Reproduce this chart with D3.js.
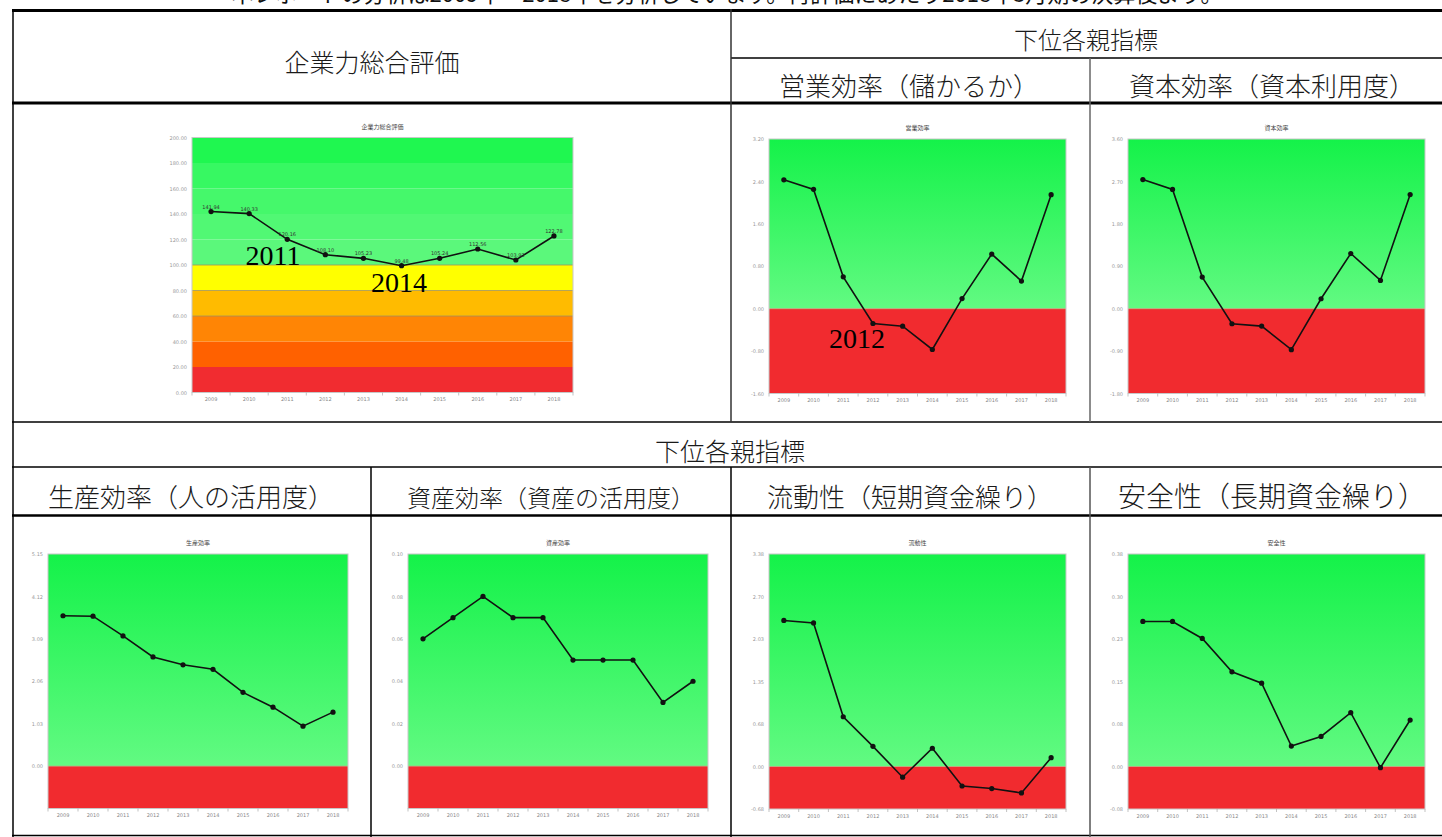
<!DOCTYPE html>
<html>
<head>
<meta charset="utf-8">
<script src="https://cdn.jsdelivr.net/npm/d3@7"></script>
<style>
body { margin: 0; background: #fff; overflow: hidden; }
</style>
</head>
<body>
<div id="chart"></div>
<script>
// ---- data ----
var years = ["2009", "2010", "2011", "2012", "2013", "2014", "2015", "2016", "2017", "2018"];

var totalScores = [141.94, 140.33, 120.16, 108.10, 105.23, 99.48, 105.24, 112.56, 103.92, 122.78];
var totalTicks = [0, 20, 40, 60, 80, 100, 120, 140, 160, 180, 200];
var totalTickLabels = ["0.00", "20.00", "40.00", "60.00", "80.00", "100.00", "120.00", "140.00", "160.00", "180.00", "200.00"];

var opEffValues = [2.43, 2.25, 0.60, -0.28, -0.33, -0.77, 0.19, 1.03, 0.52, 2.15];
var opEffTicks = [-1.6, -0.8, 0, 0.8, 1.6, 2.4, 3.2];
var opEffTickLabels = ["-1.60", "-0.80", "0.00", "0.80", "1.60", "2.40", "3.20"];

var capEffValues = [2.74, 2.53, 0.67, -0.32, -0.37, -0.87, 0.21, 1.17, 0.60, 2.42];
var capEffTicks = [-1.8, -0.9, 0, 0.9, 1.8, 2.7, 3.6];
var capEffTickLabels = ["-1.80", "-0.90", "0.00", "0.90", "1.80", "2.70", "3.60"];

var prodEffValues = [3.65, 3.64, 3.16, 2.65, 2.46, 2.35, 1.79, 1.43, 0.97, 1.31];
var prodEffTicks = [-1.03, 0, 1.03, 2.06, 3.09, 4.12, 5.15];
var prodEffTickLabels = ["", "0.00", "1.03", "2.06", "3.09", "4.12", "5.15"];

var assetEffValues = [0.06, 0.07, 0.08, 0.07, 0.07, 0.05, 0.05, 0.05, 0.03, 0.04];
var assetEffTicks = [-0.02, 0, 0.02, 0.04, 0.06, 0.08, 0.10];
var assetEffTickLabels = ["", "0.00", "0.02", "0.04", "0.06", "0.08", "0.10"];

var liquidityValues = [2.32, 2.28, 0.79, 0.32, -0.17, 0.29, -0.31, -0.35, -0.42, 0.14];
var liquidityTicks = [-0.675, 0, 0.675, 1.35, 2.025, 2.70, 3.375];
var liquidityTickLabels = ["-0.68", "0.00", "0.68", "1.35", "2.03", "2.70", "3.38"];

var safetyValues = [0.256, 0.256, 0.226, 0.167, 0.147, 0.036, 0.053, 0.095, -0.002, 0.082];
var safetyTicks = [-0.075, 0, 0.075, 0.15, 0.225, 0.30, 0.375];
var safetyTickLabels = ["-0.08", "0.00", "0.08", "0.15", "0.23", "0.30", "0.38"];

var totalBandEdges = [0, 20, 40, 60, 80, 100, 120, 140, 160, 180, 200];
var totalBandColors = ["#f12c30", "#ff6100", "#ff8505", "#ffbb00", "#ffff00",
                       "#5bf87b", "#51f874", "#45f86b", "#37f862", "#1ff750"];

// ---- svg ----
var svgW = 1442, svgH = 837;
var svg = d3.select("#chart").append("svg")
    .attr("width", svgW)
    .attr("height", svgH);

var defs = svg.append("defs");
var grad = defs.append("linearGradient")
    .attr("id", "greenGrad")
    .attr("x1", 0).attr("y1", 0).attr("x2", 0).attr("y2", 1);
grad.append("stop").attr("offset", "0%").attr("stop-color", "#14f249");
grad.append("stop").attr("offset", "100%").attr("stop-color", "#62fa82");

var jpFont = "'Noto Sans CJK JP', 'Noto Sans', sans-serif";
var smallFont = "'DejaVu Sans', sans-serif";

// caption above the table, cut off by the top edge as in the source
svg.append("text")
    .attr("x", 727).attr("y", 2)
    .attr("text-anchor", "middle")
    .attr("font-family", jpFont)
    .attr("font-size", 22)
    .attr("fill", "#111")
    .text("本レポートの分析は2009年～2018年を分析しています。再評価にあたり2018年3月期の決算後より。");

// ---- table frame ----
function hLine(x1, x2, y, w) {
    svg.append("line").attr("x1", x1).attr("x2", x2).attr("y1", y).attr("y2", y)
        .attr("stroke", "#000").attr("stroke-width", w);
}
function vLine(x, y1, y2, w, c) {
    svg.append("line").attr("x1", x).attr("x2", x).attr("y1", y1).attr("y2", y2)
        .attr("stroke", c || "#000").attr("stroke-width", w);
}
hLine(12, svgW, 10.5, 3);
hLine(731, svgW, 58, 1.5);
hLine(12, svgW, 103, 3);
hLine(12, svgW, 422, 1.5);
hLine(12, svgW, 467, 1.5);
hLine(12, svgW, 515.5, 2.5);
hLine(12, svgW, 835.5, 1.5);
vLine(13, 9, 837, 1.5);
vLine(731, 9, 422, 1.5, "#333");
vLine(1090, 58, 422, 1.5, "#666");
vLine(371, 467, 837, 1.5);
vLine(731, 467, 837, 1.5);
vLine(1090, 467, 837, 1.5, "#555");

function header(txt, x, y, size) {
    svg.append("text")
        .attr("x", x).attr("y", y)
        .attr("text-anchor", "middle")
        .attr("font-family", jpFont)
        .attr("font-size", size)
        .attr("font-weight", 300)
        .attr("fill", "#1a1a1a")
        .text(txt);
}
header("下位各親指標", 1086, 49, 24);
header("企業力総合評価", 372, 72, 25);
header("営業効率（儲かるか）", 909, 96, 26);
header("資本効率（資本利用度）", 1272, 96, 26);
header("下位各親指標", 730, 461, 25);
header("生産効率（人の活用度）", 191, 507, 26);
header("資産効率（資産の活用度）", 551, 507, 24);
header("流動性（短期資金繰り）", 910, 507, 26);
header("安全性（長期資金繰り）", 1272, 507, 28);

// ---- small chart ----
function drawChart(cfg) {
    var g = svg.append("g");
    var x = d3.scaleBand().domain(years).range([cfg.left, cfg.right]);
    var y = d3.scaleLinear()
        .domain([cfg.ticks[0], cfg.ticks[cfg.ticks.length - 1]])
        .range([cfg.bottom, cfg.top]);

    if (cfg.bandEdges) {
        cfg.bandColors.forEach(function(c, i) {
            g.append("rect")
                .attr("x", cfg.left).attr("width", cfg.right - cfg.left)
                .attr("y", y(cfg.bandEdges[i + 1]))
                .attr("height", y(cfg.bandEdges[i]) - y(cfg.bandEdges[i + 1]))
                .attr("fill", c);
        });
        [60, 80, 100].forEach(function(v) {
            g.append("line")
                .attr("x1", cfg.left).attr("x2", cfg.right)
                .attr("y1", y(v)).attr("y2", y(v))
                .attr("stroke", "#a09060").attr("stroke-width", 0.8);
        });
    } else {
        g.append("rect")
            .attr("x", cfg.left).attr("width", cfg.right - cfg.left)
            .attr("y", y.range()[1]).attr("height", y(0) - y.range()[1])
            .attr("fill", "url(#greenGrad)");
        g.append("rect")
            .attr("x", cfg.left).attr("width", cfg.right - cfg.left)
            .attr("y", y(0)).attr("height", y.range()[0] - y(0))
            .attr("fill", "#f12b2f");
        g.append("line")
            .attr("x1", cfg.left).attr("x2", cfg.right)
            .attr("y1", y(0)).attr("y2", y(0))
            .attr("stroke", "#b8b080").attr("stroke-width", 0.8);
    }
    g.append("rect")
        .attr("x", cfg.left).attr("y", cfg.top)
        .attr("width", cfg.right - cfg.left).attr("height", cfg.bottom - cfg.top)
        .attr("fill", "none").attr("stroke", "#c8c8c8").attr("stroke-width", 1);

    // title
    g.append("text")
        .attr("x", (cfg.left + cfg.right) / 2).attr("y", cfg.top - 9)
        .attr("text-anchor", "middle")
        .attr("font-family", jpFont).attr("font-size", 6).attr("fill", "#444")
        .text(cfg.title);

    // y axis labels
    var yAxis = g.append("g")
        .attr("transform", "translate(" + (cfg.left - 2) + ",0)")
        .call(d3.axisLeft(y).tickValues(cfg.ticks).tickSize(0)
            .tickFormat(function(d, i) { return cfg.tickLabels[i]; }));
    yAxis.select(".domain").remove();
    yAxis.selectAll("text")
        .attr("font-family", smallFont).attr("font-size", 5).attr("fill", "#999");

    // x axis labels and small ticks
    var xAxis = g.append("g")
        .attr("transform", "translate(0," + cfg.bottom + ")")
        .call(d3.axisBottom(x).tickSize(0).tickPadding(5));
    xAxis.select(".domain").remove();
    xAxis.selectAll("text")
        .attr("font-family", smallFont).attr("font-size", 5).attr("fill", "#888");
    years.concat(["end"]).forEach(function(d, i) {
        var px = i < years.length ? x(d) : cfg.right;
        g.append("line")
            .attr("x1", px).attr("x2", px)
            .attr("y1", cfg.bottom).attr("y2", cfg.bottom + 3)
            .attr("stroke", "#aaa").attr("stroke-width", 0.7);
    });

    var pts = years.map(function(yr, i) { return { year: yr, v: cfg.values[i] }; });
    var line = d3.line()
        .x(function(d) { return x(d.year) + x.bandwidth() / 2; })
        .y(function(d) { return y(d.v); });
    g.append("path")
        .datum(pts)
        .attr("d", line)
        .attr("fill", "none")
        .attr("stroke", "#111")
        .attr("stroke-width", 1.6);
    g.selectAll("circle.pt").data(pts).enter().append("circle")
        .attr("class", "pt")
        .attr("cx", function(d) { return x(d.year) + x.bandwidth() / 2; })
        .attr("cy", function(d) { return y(d.v); })
        .attr("r", 2.6)
        .attr("fill", "#111");

    if (cfg.pointLabels) {
        g.selectAll("text.vl").data(pts).enter().append("text")
            .attr("class", "vl")
            .attr("x", function(d) { return x(d.year) + x.bandwidth() / 2; })
            .attr("y", function(d) { return y(d.v) - 3; })
            .attr("text-anchor", "middle")
            .attr("font-family", smallFont).attr("font-size", 5).attr("fill", "#333")
            .text(function(d) { return d3.format(".2f")(d.v); });
    }
    return { x: x, y: y };
}

drawChart({ title: "企業力総合評価", values: totalScores, ticks: totalTicks, tickLabels: totalTickLabels,
    left: 192, right: 573, top: 137.5, bottom: 392.5,
    bandEdges: totalBandEdges, bandColors: totalBandColors, pointLabels: true });
drawChart({ title: "営業効率", values: opEffValues, ticks: opEffTicks, tickLabels: opEffTickLabels,
    left: 769, right: 1066, top: 139, bottom: 393.5 });
drawChart({ title: "資本効率", values: capEffValues, ticks: capEffTicks, tickLabels: capEffTickLabels,
    left: 1128, right: 1425, top: 139, bottom: 393.5 });
drawChart({ title: "生産効率", values: prodEffValues, ticks: prodEffTicks, tickLabels: prodEffTickLabels,
    left: 48, right: 348, top: 554, bottom: 808.5 });
drawChart({ title: "資産効率", values: assetEffValues, ticks: assetEffTicks, tickLabels: assetEffTickLabels,
    left: 408, right: 708, top: 554, bottom: 808.5 });
drawChart({ title: "流動性", values: liquidityValues, ticks: liquidityTicks, tickLabels: liquidityTickLabels,
    left: 769, right: 1066, top: 554, bottom: 809 });
drawChart({ title: "安全性", values: safetyValues, ticks: safetyTicks, tickLabels: safetyTickLabels,
    left: 1128, right: 1425, top: 554, bottom: 809 });

// year annotations written over the charts
var notes = [
    { label: "2011", x: 273, y: 265 },
    { label: "2014", x: 399, y: 292 },
    { label: "2012", x: 857, y: 348 }
];
svg.selectAll("text.note").data(notes).enter().append("text")
    .attr("class", "note")
    .attr("x", function(d) { return d.x; })
    .attr("y", function(d) { return d.y; })
    .attr("text-anchor", "middle")
    .attr("font-family", "'Liberation Serif', 'DejaVu Serif', serif")
    .attr("font-size", 28)
    .attr("fill", "#000")
    .text(function(d) { return d.label; });
</script>
</body>
</html>
